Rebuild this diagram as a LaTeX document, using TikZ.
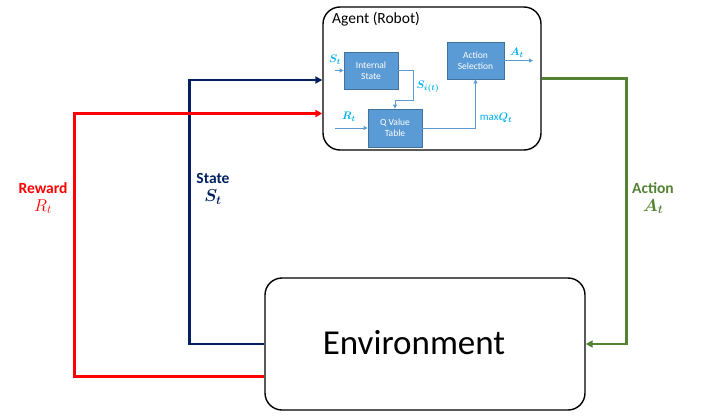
\documentclass[tikz,border=0pt]{standalone}
\usepackage{fontspec}
\setmainfont{Carlito}
\usepackage{amsmath,bm}
\usetikzlibrary{arrows.meta,positioning}

\definecolor{rewardred}{HTML}{FF0000}
\definecolor{statenavy}{HTML}{002060}
\definecolor{actiongreen}{HTML}{548235}
\definecolor{qfill}{HTML}{5B9BD5}
\definecolor{qborder}{HTML}{41719C}
\definecolor{qline}{HTML}{5B9BD5}
\definecolor{qlabel}{HTML}{00B0F0}

\begin{document}
\begin{tikzpicture}[x=1pt, y=-1pt,
    bigbox/.style={draw=black, line width=1.4pt, rounded corners=17pt, inner sep=0pt},
    qbox/.style={draw=qborder, fill=qfill, text=white, line width=0.8pt, inner sep=0pt,
        align=center, font=\fontsize{9.5}{11}\selectfont},
    thinarrow/.style={qline, line width=0.9pt, -{Triangle[length=4pt,width=4pt]}},
    loop/.style={line width=2.6pt, color=#1, -{Triangle[length=7pt,width=7pt]}},
    qlab/.style={text=qlabel, font=\fontsize{11}{13}\selectfont},
    biglab/.style={text=#1, align=center, font=\fontsize{15.5}{19}\selectfont\bfseries}]

    \useasboundingbox (0,0) rectangle (708,417);

    % agent and environment
    \node[bigbox, minimum width=218pt, minimum height=143pt] (agent) at (432,78.5) {};
    \node[anchor=north west, inner sep=0pt, font=\fontsize{15.5}{18}\selectfont] (agentname) at (332,12) {Agent (Robot)};
    \node[bigbox, minimum width=320pt, minimum height=132pt] (env) at (425,344) {};
    \node[font=\fontsize{35}{40}\selectfont] (envname) at (414,343) {Environment};

    % inside the agent
    \node[qbox, minimum width=54pt, minimum height=37pt] (istate) at (371,70.5) {Internal\\State};
    \node[qbox, minimum width=54pt, minimum height=38pt] (qtable) at (395,128) {Q Value\\Table};
    \node[qbox, minimum width=57pt, minimum height=37pt] (asel) at (475.5,60.5) {Action\\Selection};

    \coordinate (sin) at (335,70.5);
    \coordinate (rin) at (335,128);
    \coordinate (aout) at (533,60.5);
    \draw[thinarrow] (sin) -- (istate.west);
    \draw[thinarrow] (rin) -- (qtable.west);
    \draw[thinarrow] (istate.east) -- ++(15,0) -- ++(0,29.5) -| (qtable.north);
    \draw[thinarrow] (qtable.east) -| (asel.south);
    \draw[thinarrow] (asel.east) -- (aout);

    \node[qlab] (slab) at (335,60) {$\bm{S_t}$};
    \node[qlab] (rlab) at (349,117) {$\bm{R_t}$};
    \node[qlab] (silab) at (428,87) {$\bm{S_{i(t)}}$};
    \node[qlab] (maxlab) at (496,118) {max$\bm{Q_t}$};
    \node[qlab] (alab) at (517,53) {$\bm{A_t}$};

    % the loop
    \draw[loop=statenavy] (env.west) -- ++(-75,0) |- ([yshift=-1.5pt]agent.west);
    \draw[loop=rewardred] ([yshift=34pt]env.south west) -- ++(-190,0) |- ([yshift=-35pt]agent.west);
    \draw[loop=actiongreen] (agent.east) -- ++(85,0) |- (env.east);

    \node[biglab=rewardred] (reward) at (43,198) {Reward\\[-1pt]\fontsize{18}{20}\selectfont$R_t$};
    \node[biglab=statenavy] (state) at (213,189) {State\\[-1pt]\fontsize{18}{20}\selectfont$\bm{S_t}$};
    \node[biglab=actiongreen] (action) at (653,198) {Action\\[-1pt]\fontsize{18}{20}\selectfont$\bm{A_t}$};
\end{tikzpicture}
\end{document}
